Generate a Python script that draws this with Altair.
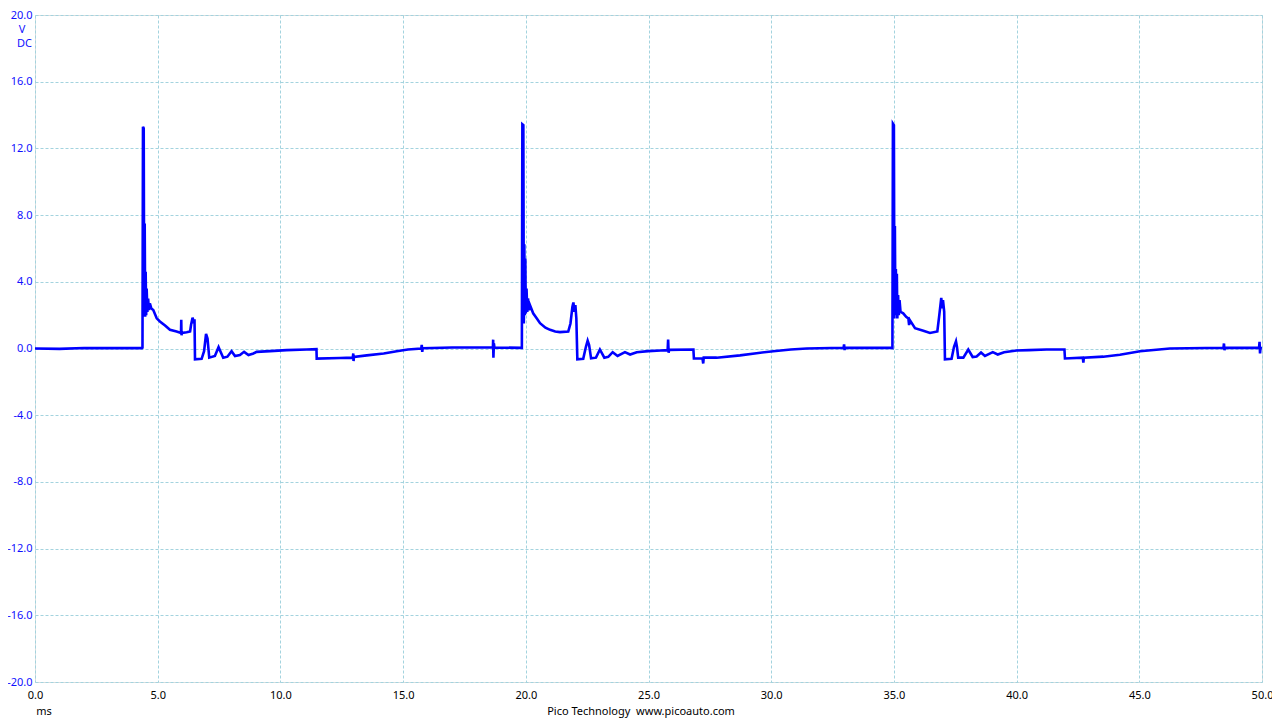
import altair as alt
import pandas as pd

# ---- waveform samples (time in ms, voltage in V) ----
cycle0_t = [0.0, 1.0, 2.0, 3.0, 4.36]
cycle0_v = [0.0, -0.02, 0.03, 0.02, 0.02]

cycle1_t = [4.38, 4.40, 4.43, 4.45, 4.47, 4.49, 4.51, 4.53, 4.55, 4.58, 4.61, 4.64, 4.68, 4.74,
            4.82, 4.96, 5.09, 5.30, 5.50, 5.77, 5.95, 5.96, 5.97, 5.99, 6.18, 6.32, 6.36, 6.42,
            6.48, 6.50, 6.52, 6.79, 6.89, 6.97, 7.03, 7.10, 7.33, 7.48, 7.58, 7.67, 7.84, 8.01,
            8.15, 8.35, 8.52, 8.70, 8.90, 9.03, 9.58, 10.25, 11.07, 11.47, 11.48, 12.43, 12.95,
            12.97, 12.98, 13.00, 13.52, 14.21, 14.74, 15.20, 15.74, 15.76, 15.78, 15.80, 17.00,
            18.66, 18.67, 18.68, 18.70, 18.72, 19.84]
cycle1_v = [0.05, 13.3, 13.2, 1.9, 7.5, 1.9, 4.6, 2.0, 3.6, 2.2, 3.0, 2.3, 2.7, 2.4,
            2.31, 1.81, 1.62, 1.38, 1.12, 1.02, 0.93, 1.72, 0.80, 0.93, 0.97, 1.02, 1.42, 1.85,
            1.52, 1.75, -0.65, -0.62, -0.16, 0.87, 0.60, -0.55, -0.45, 0.08, -0.26, -0.55, -0.49, -0.16,
            -0.45, -0.39, -0.20, -0.39, -0.30, -0.20, -0.16, -0.10, -0.06, -0.04, -0.61, -0.57, -0.55,
            -0.30, -0.75, -0.50, -0.41, -0.30, -0.16, -0.06, 0.0, 0.22, -0.20, 0.02, 0.06,
            0.06, 0.53, -0.55, 0.30, 0.06, 0.04]

cycle2_t = [19.86, 19.90, 19.92, 19.94, 19.96, 19.98, 20.00, 20.03, 20.06, 20.09, 20.13, 20.17,
            20.30, 20.45, 20.58, 20.80, 20.99, 21.20, 21.39, 21.73, 21.82, 21.90, 21.94, 21.98,
            22.02, 22.06, 22.10, 22.34, 22.45, 22.52, 22.58, 22.66, 22.86, 23.02, 23.20, 23.36,
            23.54, 23.74, 24.04, 24.25, 24.52, 24.99, 25.50, 25.78, 25.80, 25.82, 25.84, 26.83,
            26.85, 27.20, 27.23, 27.25, 27.78, 28.73, 29.40, 30.09, 30.80, 31.45, 32.95, 32.97,
            32.99, 33.00, 34.92]
cycle2_v = [13.45, 13.4, 1.5, 6.25, 2.0, 5.4, 2.1, 3.6, 2.2, 3.0, 2.3, 2.6,
            2.11, 1.80, 1.52, 1.25, 1.12, 1.02, 0.98, 1.02, 1.50, 2.50, 2.76, 2.20,
            2.60, 1.80, -0.65, -0.62, 0.10, 0.47, 0.20, -0.59, -0.55, -0.06, -0.55, -0.50,
            -0.22, -0.45, -0.22, -0.36, -0.22, -0.16, -0.12, -0.10, 0.53, -0.25, -0.08, -0.06,
            -0.60, -0.60, -0.90, -0.55, -0.55, -0.41, -0.28, -0.16, -0.06, 0.0, 0.04, 0.25,
            -0.10, 0.04, 0.04]

cycle3_t = [34.94, 34.96, 35.00, 35.02, 35.04, 35.06, 35.08, 35.10, 35.12, 35.14, 35.17, 35.20,
            35.23, 35.27, 35.38, 35.50, 35.59, 35.62, 35.65, 35.86, 36.20, 36.47, 36.77, 36.85,
            36.93, 36.97, 37.00, 37.05, 37.08, 37.35, 37.45, 37.53, 37.57, 37.62, 37.83, 38.03,
            38.21, 38.37, 38.55, 38.71, 39.03, 39.23, 39.49, 40.00, 40.50, 41.22, 41.95, 41.97,
            42.70, 42.72, 42.74, 43.53, 44.21, 45.03, 46.25, 48.43, 48.45, 48.47, 48.49, 49.88,
            49.90, 49.92, 49.94, 50.00]
cycle3_v = [0.03, 13.49, 13.4, 1.8, 7.34, 2.0, 4.77, 2.2, 4.48, 1.8, 3.2, 2.0,
            2.9, 2.2, 2.11, 1.90, 1.80, 1.40, 1.70, 1.22, 1.07, 0.93, 1.02, 2.00,
            3.04, 2.40, 2.90, 2.20, -0.65, -0.62, 0.10, 0.43, 0.10, -0.55, -0.55, -0.06,
            -0.51, -0.48, -0.24, -0.45, -0.22, -0.36, -0.22, -0.12, -0.10, -0.06, -0.06, -0.60,
            -0.55, -0.85, -0.55, -0.49, -0.37, -0.16, 0.0, 0.04, 0.30, -0.10, 0.04, 0.04,
            0.40, -0.30, 0.04, 0.02]

x_ticks = [0, 5, 10, 15, 20, 25, 30, 35, 40, 45, 50]
y_ticks = [-20, -16, -12, -8, -4, 0, 4, 8, 12, 16, 20]

time_ms = cycle0_t + cycle1_t + cycle2_t + cycle3_t
volts = cycle0_v + cycle1_v + cycle2_v + cycle3_v
df = pd.DataFrame({"t": time_ms, "v": volts, "i": list(range(len(time_ms)))})

GRID = "#a3d3de"
FONT = "Noto Sans"
minus_fix = "replace(format(datum.value, '.1f'), '\u2212', '-')"

line = alt.Chart(df).mark_line(color="#0000ff", strokeWidth=2.6, clip=True).encode(
    x=alt.X("t:Q", scale=alt.Scale(domain=[0, 50], nice=False, zero=False),
            axis=alt.Axis(values=x_ticks, labelExpr=minus_fix, title=None, domain=False,
                          ticks=False, grid=True, gridColor=GRID, gridDash=[3, 2],
                          gridWidth=1, labelColor="#000000", labelFont=FONT,
                          labelFontSize=11, labelPadding=7, labelFlush=False)),
    y=alt.Y("v:Q", scale=alt.Scale(domain=[-20, 20], nice=False, zero=False),
            axis=alt.Axis(values=y_ticks, labelExpr=minus_fix, title=None, domain=False,
                          ticks=False, grid=True, gridColor=GRID, gridDash=[3, 2],
                          gridWidth=1, labelColor="#1010ff", labelFont=FONT,
                          labelFontSize=11, labelPadding=3, labelFlush=False)),
    order="i:Q",
)

one = pd.DataFrame({"a": [0]})

def label(txt, x, y, color, align="center"):
    return alt.Chart(one).mark_text(text=txt, font=FONT, fontSize=11, color=color,
                                    align=align, baseline="middle").encode(
        x=alt.value(x), y=alt.value(y))

chart = alt.layer(
    line,
    label("V", -13, 15, "#1010ff"),
    label("DC", -3, 29, "#1010ff", align="right"),
    label("ms", 9, 697, "#000000"),
    label("Pico Technology\u00a0 www.picoauto.com", 606, 697, "#000000"),
).properties(
    width=1227, height=667,
    autosize=alt.AutoSizeParams(type="none"),
    padding={"left": 27, "top": 7, "right": 10, "bottom": 36},
).configure_view(strokeWidth=0).configure(background="white")

chart.save("out.html", embed_options={"renderer": "svg", "actions": False})
